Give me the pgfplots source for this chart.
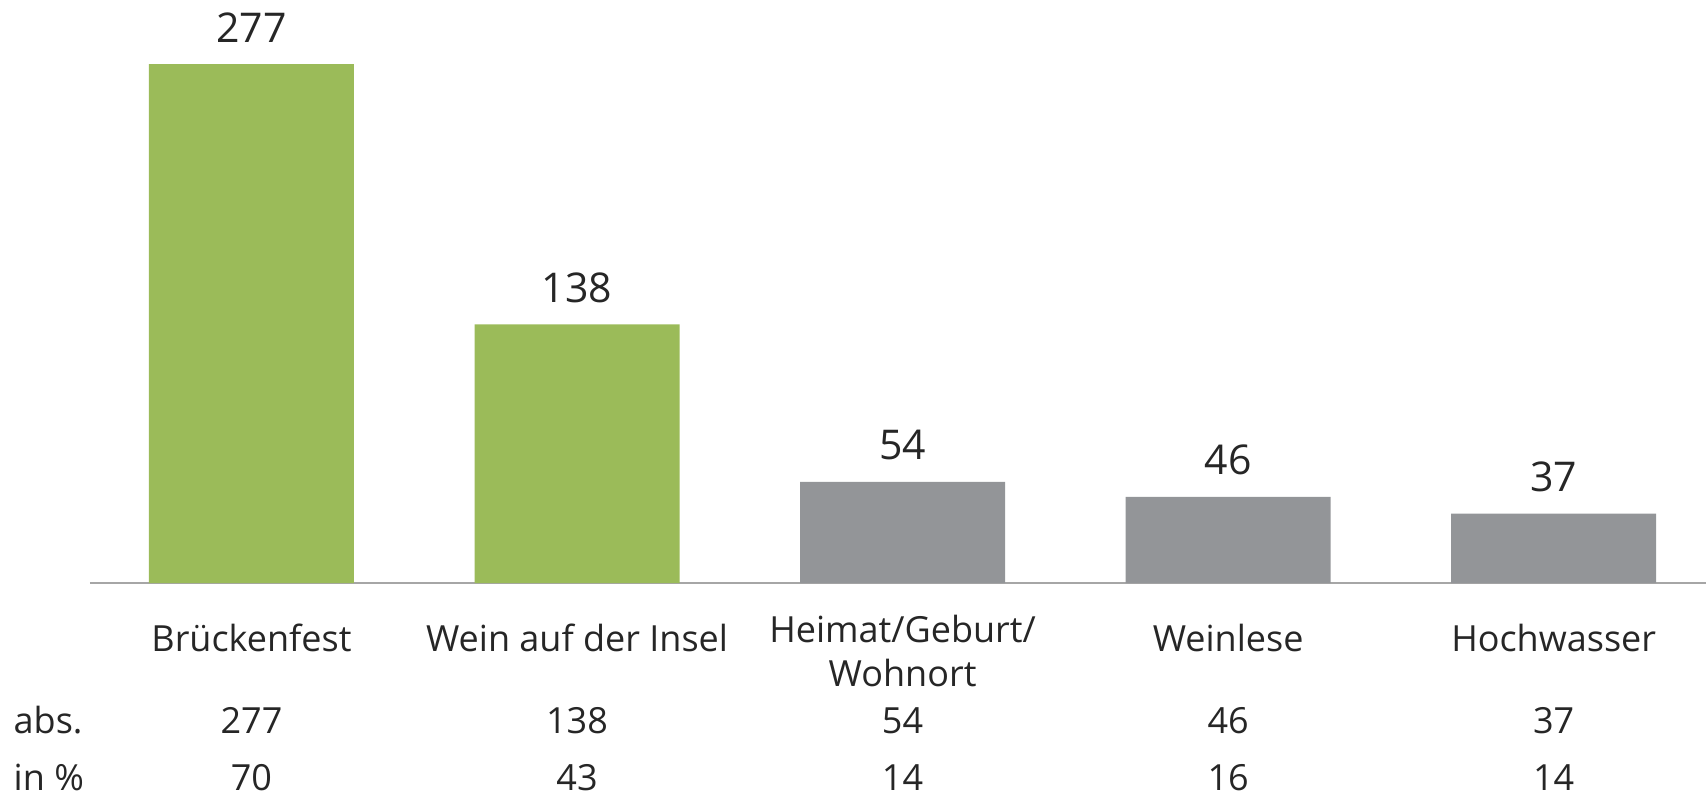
\documentclass[border=0pt]{standalone}
\usepackage{fontspec}
\setmainfont{Open Sans}
\usepackage{pgfplots}
\pgfplotsset{compat=1.18}
\definecolor{bargreen}{HTML}{9BBB59}
\definecolor{bargray}{HTML}{939598}
\definecolor{axgray}{HTML}{A6A6A6}
\definecolor{txt}{HTML}{262626}
\tikzset{lab/.style={font=\fontsize{18}{22}\selectfont, text=txt, anchor=base, inner ysep=0pt}}
\begin{document}
\begin{tikzpicture}
\begin{axis}[
  at={(0,0)}, anchor=south west,
  scale only axis, width=808pt, height=291.5pt,
  xmin=-0.496, xmax=4.468, ymin=0, ymax=311.2,
  axis x line*=bottom, axis y line=none,
  x axis line style={axgray, line width=1pt},
  xtick=\empty, ytick=\empty,
  clip=false,
  /pgf/number format/assume math mode=true,
  every node near coord/.style={font=\fontsize{20.5}{25}\selectfont, text=txt, anchor=base, yshift=11pt},
]
\addplot[ybar, bar width=102.5pt, bar shift=0pt, draw=none, fill=bargreen, nodes near coords]
  coordinates {(0,277) (1,138)};
\addplot[ybar, bar width=102.5pt, bar shift=0pt, draw=none, fill=bargray, nodes near coords]
  coordinates {(2,54) (3,46) (4,37)};

% category labels
\node[lab] at (axis cs:0,-36.3) {Brückenfest};
\node[lab] at (axis cs:1,-36.3) {Wein auf der Insel};
\node[lab] at (axis cs:2,-31.5) {Heimat/Geburt/};
\node[lab] at (axis cs:2,-55.5) {Wohnort};
\node[lab] at (axis cs:3,-36.3) {Weinlese};
\node[lab] at (axis cs:4,-36.3) {Hochwasser};
% abs. row
\node[lab, anchor=base west] at (axis cs:-0.752,-80.1) {abs.};
\node[lab] at (axis cs:0,-80.1) {277};
\node[lab] at (axis cs:1,-80.1) {138};
\node[lab] at (axis cs:2,-80.1) {54};
\node[lab] at (axis cs:3,-80.1) {46};
\node[lab] at (axis cs:4,-80.1) {37};
% in % row
\node[lab, anchor=base west, text depth=0pt] at (axis cs:-0.752,-110.5) {in \%};
\node[lab, text depth=0pt] at (axis cs:0,-110.5) {70};
\node[lab, text depth=0pt] at (axis cs:1,-110.5) {43};
\node[lab, text depth=0pt] at (axis cs:2,-110.5) {14};
\node[lab, text depth=0pt] at (axis cs:3,-110.5) {16};
\node[lab, text depth=0pt] at (axis cs:4,-110.5) {14};
\end{axis}
\pgfresetboundingbox
\path[use as bounding box] (-45pt,-107pt) rectangle (808pt,291.5pt);
\end{tikzpicture}
\end{document}
